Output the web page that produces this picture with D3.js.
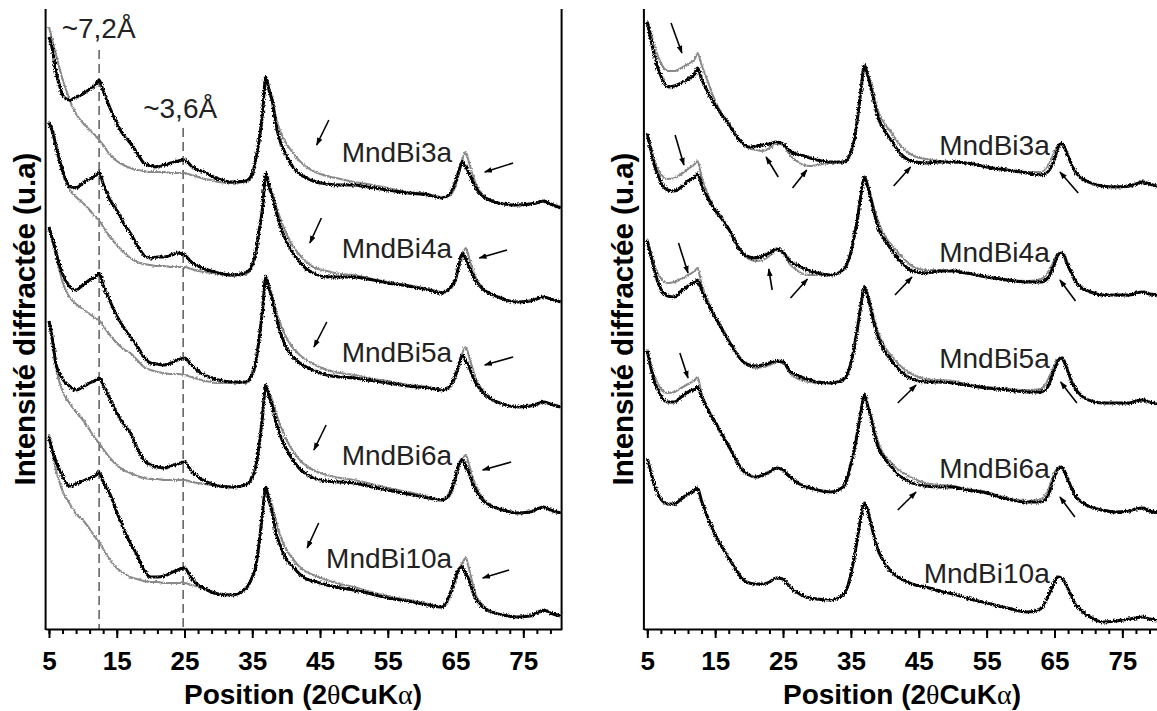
<!DOCTYPE html>
<html><head><meta charset="utf-8">
<script src="https://cdn.jsdelivr.net/npm/d3@7/dist/d3.min.js"></script>
<style>
body{margin:0;background:#fff;}
svg{display:block;font-family:"Liberation Sans",Arial,sans-serif;}
</style></head>
<body><svg id="c" width="1157" height="711"></svg>
<script>
// 2θ grid shared by every trace
const twoTheta = [5,5.5,6,6.5,7,8,9,10,11,12, 12.4,13,14,15,16,17,18,19,20,21, 22,23,24,25,26,27,28,29,30,32, 34,35,35.5,36,36.5,37,37.5,38,38.5,39, 40,41,42,43,44,46,48,50,52,55, 58,61,63,64,65,65.5,66,66.5,67,67.5, 68,69,70,72,74,76,77,78,79,80.5];
const samples = ["MndBi3a","MndBi4a","MndBi5a","MndBi6a","MndBi10a"];
const xTicksMajor = [5,15,25,35,45,55,65,75];

// Left panel (stacked intensities, arbitrary units)
const left3aBlack = [592,580,558,545,534,529,532,535,540,545, 549,538,521,506,494,486,476,466,463,462, 464,466,468,469,463,459,457,453,450,447, 448,455,469,488,515,552,538,526,504,490, 474,462,455,451,448,445,444,444,442,439, 436,434,431,434,447,458,467,462,456,448, 441,433,429,425,424,425,426,428,425,421];
const left3aGray = [602,588,575,562,550,530,515,506,499,492, 489,484,474,468,464,461,459,458,457,457, 457,456,456,456,454,452,450,449,447,446, 447,454,468,487,514,550,540,530,511,500, 486,476,468,462,458,453,450,447,445,441, 437,435,432,433,443,455,470,477,466,455, 445,434,429,425,424,425,426,428,425,421];
const left4aBlack = [506,498,484,470,458,443,441,446,450,454, 457,445,429,419,406,396,384,374,371,372, 372,374,376,374,367,363,360,358,356,354, 356,364,376,398,420,456,442,432,418,406, 388,376,367,360,356,352,352,352,350,346, 343,339,336,340,350,364,376,370,362,354, 348,340,336,330,327,328,330,332,330,327];
const left4aGray = [508,497,485,472,458,440,432,426,419,411, 409,402,392,384,377,371,367,365,364,363, 363,362,362,362,360,358,357,356,355,353, 355,363,375,397,419,454,444,435,423,413, 396,383,374,367,362,358,355,354,351,347, 344,340,337,339,348,362,373,381,371,360, 351,341,336,330,327,328,330,332,330,327];
const left5aBlack = [402,390,378,365,355,343,339,344,349,353, 356,344,328,313,302,292,283,272,266,265, 264,266,269,271,264,258,254,251,249,247, 247,255,266,290,318,352,340,328,312,300, 282,272,266,262,259,254,252,251,249,246, 243,241,239,242,254,264,274,268,262,253, 246,237,231,225,222,223,225,227,225,222];
const left5aGray = [402,388,374,360,347,332,325,320,315,310, 309,303,294,286,280,276,269,262,259,257, 256,255,255,254,252,250,248,247,246,246, 246,254,265,289,317,350,342,332,318,308, 292,281,274,269,265,259,256,254,251,248, 244,242,239,241,252,263,276,282,272,261, 250,239,231,225,222,223,225,227,225,222];
const left6aBlack = [308,290,266,256,250,243,239,242,246,249, 251,244,230,216,205,196,181,169,164,162, 161,163,165,167,158,152,148,145,143,142, 144,152,162,183,212,244,232,222,207,196, 180,169,160,155,151,148,147,146,143,139, 135,131,129,134,152,165,169,163,156,146, 139,129,124,119,116,117,120,122,119,116];
const left6aGray = [308,288,262,248,238,226,217,209,199,189, 186,180,171,164,159,156,153,151,150,150, 149,149,149,149,147,146,145,144,143,142, 144,152,162,183,212,242,236,228,216,206, 190,178,169,163,159,154,151,149,146,141, 137,132,129,132,148,162,170,174,164,152, 143,131,124,119,116,117,120,122,119,116];
const left10aBlack = [192,178,168,160,153,143,145,148,151,154, 157,147,135,117,100,86,74,59,52,52, 53,56,59,61,51,44,40,37,35,34, 40,52,62,85,115,142,128,115,96,86, 70,62,55,50,48,44,41,39,36,31, 28,24,22,32,52,60,62,55,49,38, 30,22,18,14,12,13,16,19,16,13];
const left10aGray = [195,178,160,148,138,126,115,109,100,90, 87,80,69,61,56,52,50,48,47,47, 46,46,46,46,44,42,40,37,35,34, 40,52,62,85,115,140,132,122,108,96, 80,70,62,57,54,49,45,42,38,33, 29,25,22,30,49,60,66,71,60,46, 34,24,18,14,12,13,16,19,16,13];

// Right panel
const right3aBlack = [607,590,575,562,553,542,543,546,550,555, 561,550,536,524,514,505,494,486,482,483, 484,485,487,485,478,475,473,471,469,467, 467,477,489,512,540,564,553,540,525,512, 498,488,478,471,468,466,467,467,466,462, 459,456,454,457,470,481,486,481,473,465, 458,451,447,443,442,443,445,447,445,442];
const right3aGray = [608,597,584,574,566,558,558,561,565,570, 576,564,546,528,515,506,494,486,481,479, 478,481,485,484,474,468,464,463,464,466, 467,477,489,512,540,563,555,544,530,518, 505,496,486,479,474,470,468,467,466,462, 459,457,457,463,477,483,486,481,473,465, 458,451,447,443,442,443,445,447,445,442];
const right4aBlack = [495,480,465,455,447,439,438,442,448,452, 455,444,430,419,410,400,387,376,372,371, 373,376,380,377,368,364,361,358,356,354, 360,377,393,412,435,452,442,428,414,402, 389,379,370,363,358,356,358,358,356,352, 349,347,347,351,365,374,376,372,363,356, 349,341,338,334,334,334,336,337,335,334];
const right4aGray = [496,482,469,461,455,450,451,455,460,465, 468,452,433,419,410,400,387,376,370,368, 369,373,379,376,365,359,355,354,354,354, 360,377,393,412,435,452,444,432,419,408, 393,384,376,369,363,359,359,358,356,352, 349,348,350,356,369,375,376,372,363,356, 349,341,338,334,334,334,336,337,335,334];
const right5aBlack = [388,374,360,348,340,333,332,338,343,347, 349,339,324,312,300,288,277,268,264,263, 264,266,268,267,258,254,251,249,247,246, 250,266,282,302,325,342,332,318,303,292, 278,268,260,254,250,247,247,246,244,241, 239,237,237,242,260,268,271,266,257,248, 241,233,229,226,226,226,228,229,227,224];
const right5aGray = [390,377,365,356,351,346,347,350,354,358, 361,345,327,312,300,288,277,268,263,261, 262,264,267,266,256,251,248,247,246,246, 250,266,282,302,325,342,334,322,308,297, 282,273,265,259,255,250,249,248,245,242, 240,239,240,249,264,270,271,266,257,248, 241,233,229,226,226,226,228,229,227,224];
const right6aBlack = [278,262,248,240,233,227,227,232,237,240, 242,232,218,207,195,183,170,159,154,152, 154,157,161,159,152,147,143,141,139,137, 143,165,180,198,218,234,222,210,195,182, 170,162,154,150,146,143,142,142,139,136, 130,127,127,133,152,160,162,157,149,141, 134,127,123,119,117,118,120,121,118,116];
const right6aGray = [280,265,253,246,240,236,237,241,245,249, 252,236,220,207,195,183,170,159,154,152, 154,157,161,159,152,147,143,141,139,137, 143,165,180,198,218,234,224,213,199,187, 173,166,159,155,151,146,144,143,140,137, 131,128,130,138,156,161,162,157,149,141, 134,127,123,119,117,118,120,121,118,116];
const right10aBlack = [170,158,145,136,130,125,125,130,135,139, 141,128,110,94,82,71,60,50,46,45, 45,47,51,50,42,37,33,31,30,29, 35,55,72,92,113,126,118,104,90,79, 66,57,52,48,45,42,38,35,31,26, 21,17,20,32,47,52,51,47,40,33, 26,18,13,7,8,10,11,12,10,9];

// annotations: [x0, v0, x1, v1] (2θ, intensity)
const leftArrows = [[46.3,509,44.5,484],[73.5,466,69.3,457],[45.2,411,43.5,386],[72.6,379,68.5,371],[46.0,307,44.1,282],[73.5,272,69.3,264],[45.9,204,44.1,179],[73.2,167,69.0,159],[44.8,106,43.1,81],[72.9,59,69.0,51]];
const rightArrows = [[8.5,606,10.1,576],[24.3,452,22.5,472],[26.4,441,28.5,459],[41.3,443,43.8,462],[68.5,436,65.8,457],[9.1,494,10.4,464],[23.4,339,22.9,360],[26.1,331,28.6,350],[41.5,334,44.0,352],[68.1,328,65.8,349],[9.6,386,11.0,356],[41.9,226,44.6,244],[68.3,226,65.9,247],[9.8,276,11.0,251],[41.9,119,44.6,137],[68.0,112,65.8,132]];
const leftLabelV = [467,371,267,164,61];
const rightLabelV = [474,367,261,151,46];
const dSpacings = [{x:12.4, top:579, text:"~7,2Å", tx:6.87, tv:591},{x:24.8, top:501, text:"~3,6Å", tx:18.9, tv:511}];

const svg = d3.select("#c");
const defs = svg.append("defs");
function noiseFilter(id, scale, seed){
  const f = defs.append("filter").attr("id",id).attr("filterUnits","userSpaceOnUse")
    .attr("x",0).attr("y",0).attr("width",1157).attr("height",711);
  f.append("feTurbulence").attr("type","fractalNoise").attr("baseFrequency","0.9 0.55").attr("numOctaves",2).attr("seed",seed).attr("result","t");
  f.append("feDisplacementMap").attr("in","SourceGraphic").attr("in2","t").attr("scale",scale).attr("xChannelSelector","R").attr("yChannelSelector","G");
}
noiseFilter("noiseK",4,7);
noiseFilter("noiseG",3,11);
defs.append("marker").attr("id","ah").attr("viewBox","0 0 10 10").attr("refX",9).attr("refY",5)
  .attr("markerWidth",8).attr("markerHeight",8).attr("markerUnits","userSpaceOnUse").attr("orient","auto")
  .append("path").attr("d","M0,1.5 L10,5 L0,8.5 Z").attr("fill","#000");

const y = d3.scaleLinear().domain([0,620]).range([629,9]);

const panels = [
  {x0:45.6, x1:561.6, border:true, series:[
     [left3aGray,left3aBlack],[left4aGray,left4aBlack],[left5aGray,left5aBlack],[left6aGray,left6aBlack],[left10aGray,left10aBlack]],
   arrows:leftArrows, labelV:leftLabelV, labelX:64.5, ytitleX:35, xtitleX:303, dlines:true},
  {x0:643.9, x1:1160.7, border:false, series:[
     [right3aGray,right3aBlack],[right4aGray,right4aBlack],[right5aGray,right5aBlack],[right6aGray,right6aBlack],[null,right10aBlack]],
   arrows:rightArrows, labelV:rightLabelV, labelX:64.3, ytitleX:633, xtitleX:902, dlines:false}
];

panels.forEach((p,pi)=>{
  const x = d3.scaleLinear().domain([4.5,80.65]).range([p.x0,p.x1]);
  const g = svg.append("g");
  const line = d3.line().x((d,i)=>x(twoTheta[i])).y(d=>y(d)).curve(d3.curveMonotoneX);

  if(p.dlines){
    dSpacings.forEach(d=>{
      g.append("line").attr("x1",x(d.x)).attr("x2",x(d.x)).attr("y1",y(d.top)).attr("y2",y(0))
        .attr("stroke","#666").attr("stroke-width",1.6).attr("stroke-dasharray","9,5");
      g.append("text").attr("x",x(d.tx)).attr("y",y(d.tv)).text(d.text)
        .attr("font-size",28).attr("fill","#222");
    });
  }
  const gg = g.append("g").attr("filter","url(#noiseG)");
  p.series.forEach(([gray,black])=>{
    if(gray) gg.append("path").attr("d",line(gray)).attr("fill","none").attr("stroke","#8a8a8a").attr("stroke-width",2.1);
  });
  const kg = g.append("g").attr("filter","url(#noiseK)");
  p.series.forEach(([gray,black])=>{
    kg.append("path").attr("d",line(black)).attr("fill","none").attr("stroke","#000").attr("stroke-width",3);
  });

  samples.forEach((s,i)=>{
    g.append("text").attr("x",x(p.labelX)).attr("y",y(p.labelV[i])).attr("text-anchor","end")
      .attr("font-size",28).attr("fill","#222").text(s);
  });
  p.arrows.forEach(a=>{
    g.append("line").attr("x1",x(a[0])).attr("y1",y(a[1])).attr("x2",x(a[2])).attr("y2",y(a[3]))
      .attr("stroke","#000").attr("stroke-width",1.6).attr("marker-end","url(#ah)");
  });

  const minor = d3.axisBottom(x).tickValues(d3.range(5,80,2)).tickSize(5).tickSizeOuter(0).tickFormat("");
  const ma = g.append("g").attr("transform","translate(0,629)").call(minor);
  ma.selectAll("path,line").attr("stroke","#000").attr("stroke-width",2);
  const major = d3.axisBottom(x).tickValues(xTicksMajor).tickSize(9).tickSizeOuter(0).tickFormat(d3.format("d"));
  const mj = g.append("g").attr("transform","translate(0,629)").call(major);
  mj.select(".domain").remove();
  mj.selectAll("line").attr("stroke","#000").attr("stroke-width",2);
  mj.selectAll("text").attr("y",41).attr("dy",0).attr("font-size",26).attr("font-weight","bold")
    .attr("font-family","\"Liberation Sans\",Arial,sans-serif").attr("fill","#000");
  g.append("line").attr("x1",p.x0).attr("x2",p.x0).attr("y1",9).attr("y2",630).attr("stroke","#000").attr("stroke-width",2);
  if(p.border) g.append("line").attr("x1",p.x1).attr("x2",p.x1).attr("y1",9).attr("y2",630).attr("stroke","#000").attr("stroke-width",2);

  const xt = g.append("text").attr("x",p.xtitleX).attr("y",704).attr("text-anchor","middle")
    .attr("font-size",28).attr("font-weight","bold");
  xt.append("tspan").text("Position (2");
  xt.append("tspan").attr("font-family","\"Liberation Serif\",serif").attr("font-weight","normal").text("θ");
  xt.append("tspan").text("CuK");
  xt.append("tspan").attr("font-family","\"Liberation Serif\",serif").attr("font-weight","normal").text("α");
  xt.append("tspan").text(")");
  g.append("text").attr("transform",`translate(${p.ytitleX},319) rotate(-90)`).attr("text-anchor","middle")
    .attr("font-size",29.5).attr("font-weight","bold").text("Intensité diffractée (u.a)");
});
</script></body></html>
